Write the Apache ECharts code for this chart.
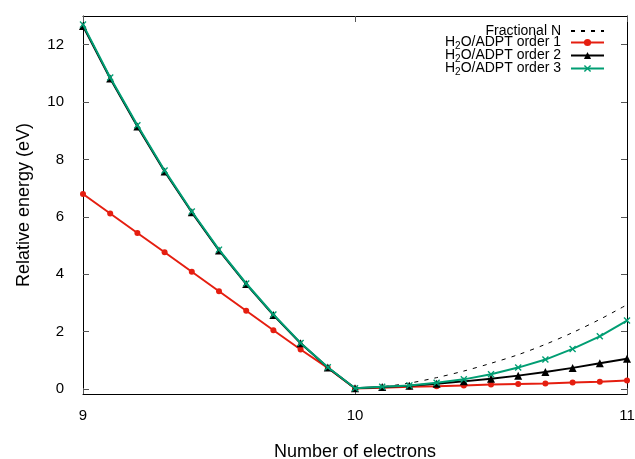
<!DOCTYPE html>
<html>
<head>
<meta charset="utf-8">
<script src="https://cdn.jsdelivr.net/npm/echarts@6/dist/echarts.min.js"></script>
<style>html,body{margin:0;padding:0;background:#fff}#c{width:635px;height:459px}</style>
</head>
<body>
<div id="c"></div>
<script>
var xs = [9.0, 9.1, 9.2, 9.3, 9.4, 9.5, 9.6, 9.7, 9.8, 9.9, 10.0, 10.1, 10.2, 10.3, 10.4, 10.5, 10.6, 10.7, 10.8, 10.9, 11.0];
var order1 = [6.80, 6.12, 5.44, 4.77, 4.09, 3.41, 2.73, 2.05, 1.38, 0.74, 0.02, 0.05, 0.08, 0.10, 0.13, 0.16, 0.18, 0.20, 0.23, 0.26, 0.30];
var order2 = [12.65, 10.82, 9.15, 7.58, 6.16, 4.83, 3.66, 2.58, 1.60, 0.75, 0.03, 0.07, 0.12, 0.19, 0.27, 0.36, 0.47, 0.60, 0.74, 0.90, 1.06];
var order3 = [12.70, 10.86, 9.19, 7.62, 6.19, 4.86, 3.68, 2.60, 1.61, 0.76, 0.03, 0.08, 0.13, 0.22, 0.34, 0.52, 0.75, 1.03, 1.40, 1.84, 2.39];
var fracLeftX = [9.0, 9.1, 9.2, 9.3, 9.4, 9.5, 9.6, 9.7, 9.8, 9.9, 10.0];
var fracLeft = [12.70, 10.86, 9.19, 7.62, 6.19, 4.86, 3.68, 2.60, 1.61, 0.76, 0.0];
var fracRightX = [10.0, 10.1, 10.2, 10.3, 10.4, 10.5, 10.6, 10.7, 10.8, 10.9, 11.0];
var fracRight = [0.0, 0.08, 0.21, 0.40, 0.63, 0.90, 1.20, 1.56, 1.97, 2.43, 2.94];
var xTicks = [9, 10, 11];
var yTicks = [0, 2, 4, 6, 8, 10, 12];
var seriesNames = ['Fractional N', 'H2O/ADPT order 1', 'H2O/ADPT order 2', 'H2O/ADPT order 3'];

function pairs(x, y) { return x.map(function (v, i) { return [v, y[i]]; }); }

var FONT = 'Liberation Sans, Arial, sans-serif';
var crossPath = 'path://M0,1.4L1.4,0L5,3.6L8.6,0L10,1.4L6.4,5L10,8.6L8.6,10L5,6.4L1.4,10L0,8.6L3.6,5Z';
var tickStyle = { show: true, inside: true, length: 6, lineStyle: { color: '#555', width: 1 } };
var axisLine = { show: true, onZero: false, lineStyle: { color: '#000', width: 1 } };

var chart = echarts.init(document.getElementById('c'), null, { renderer: 'canvas' });
chart.setOption({
  animation: false,
  backgroundColor: '#fff',
  grid: { left: 83, right: 8, top: 16, bottom: 65, containLabel: false, outerBoundsMode: 'none' },
  legend: {
    data: [
      { name: seriesNames[0], itemStyle: { opacity: 0 } },
      { name: seriesNames[1] },
      { name: seriesNames[2] },
      { name: seriesNames[3] }
    ],
    orient: 'vertical',
    right: 30, top: 24,
    padding: 0,
    itemGap: -4,
    itemWidth: 33,
    itemHeight: 9,
    align: 'right',
    formatter: function (n) { return n.replace('H2O', 'H{s|2}O'); },
    textStyle: {
      fontFamily: FONT, fontSize: 14, color: '#000', lineHeight: 12.3,
      padding: [0, 5, 0, 0],
      rich: { s: { fontFamily: FONT, fontSize: 10, color: '#000', padding: [7, 0, 0, 0], lineHeight: 5 } }
    }
  },
  xAxis: [{
    type: 'value', min: 9, max: 11, interval: 1,
    axisLine: axisLine, axisTick: tickStyle, splitLine: { show: false },
    axisLabel: { margin: 14, fontFamily: FONT, fontSize: 15, color: '#000' },
    name: 'Number of electrons', nameLocation: 'middle', nameGap: 49,
    nameTextStyle: { fontFamily: FONT, fontSize: 18, color: '#000' }
  }, {
    type: 'value', min: 9, max: 11, interval: 1, position: 'top',
    axisLine: axisLine, axisTick: tickStyle, splitLine: { show: false },
    axisLabel: { show: false }
  }],
  yAxis: [{
    type: 'value', min: -0.17, max: 13,
    axisLine: axisLine, splitLine: { show: false },
    axisTick: { show: true, inside: true, length: 6, lineStyle: { color: '#555', width: 1 }, customValues: yTicks },
    axisLabel: { margin: 19, fontFamily: FONT, fontSize: 15, color: '#000', customValues: yTicks },
    name: 'Relative energy (eV)', nameLocation: 'middle', nameGap: 50,
    nameTextStyle: { fontFamily: FONT, fontSize: 18, color: '#000' }
  }, {
    type: 'value', min: -0.17, max: 13, position: 'right',
    axisLine: axisLine, splitLine: { show: false },
    axisTick: { show: true, inside: true, length: 6, lineStyle: { color: '#555', width: 1 }, customValues: yTicks },
    axisLabel: { show: false, customValues: yTicks }
  }],
  series: [
    { name: seriesNames[0], type: 'line', data: pairs(fracLeftX, fracLeft), showSymbol: false, symbol: 'none',
      lineStyle: { color: '#000', width: 1, type: [4, 6] }, itemStyle: { color: '#000' }, z: 1 },
    { name: seriesNames[0], type: 'line', data: pairs(fracRightX, fracRight), showSymbol: false, symbol: 'none', smooth: 0.3,
      lineStyle: { color: '#000', width: 1, type: [4, 6] }, itemStyle: { color: '#000' }, z: 1 },
    { name: seriesNames[1], type: 'line', data: pairs(xs, order1), symbol: 'circle', symbolSize: 6,
      lineStyle: { color: '#e51e10', width: 2 }, itemStyle: { color: '#e51e10' }, z: 2 },
    { name: seriesNames[2], type: 'line', data: pairs(xs, order2), symbol: 'triangle', symbolSize: 8,
      lineStyle: { color: '#000', width: 2 }, itemStyle: { color: '#000' }, z: 3 },
    { name: seriesNames[3], type: 'line', data: pairs(xs, order3), symbol: crossPath, symbolSize: 7,
      lineStyle: { color: '#009e73', width: 2 }, itemStyle: { color: '#009e73' }, z: 4 }
  ]
});
</script>
</body>
</html>
